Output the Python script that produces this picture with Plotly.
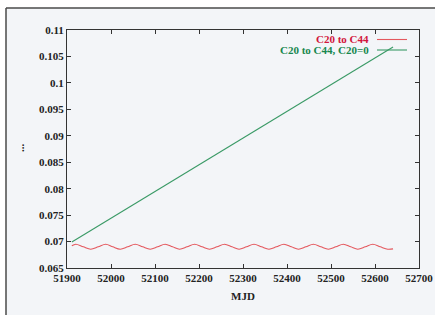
import plotly.graph_objects as go

# Data
red_mjd = [51911, 51920, 51937, 51954, 51971, 51988, 52004, 52021, 52038, 52055, 52072,
           52089, 52106, 52123, 52140, 52156, 52173, 52190, 52207, 52224, 52241, 52258,
           52275, 52291, 52308, 52325, 52342, 52359, 52376, 52393, 52410, 52426, 52443,
           52460, 52477, 52494, 52511, 52528, 52545, 52561, 52578, 52595, 52612, 52629, 52641]
red_val = [0.06920, 0.06950, 0.06900, 0.06855, 0.06900, 0.06950, 0.06900, 0.06855, 0.06900,
           0.06950, 0.06900, 0.06855, 0.06900, 0.06950, 0.06900, 0.06855, 0.06900, 0.06950,
           0.06900, 0.06855, 0.06900, 0.06950, 0.06900, 0.06855, 0.06900, 0.06950, 0.06900,
           0.06855, 0.06900, 0.06950, 0.06900, 0.06855, 0.06900, 0.06950, 0.06900, 0.06855,
           0.06900, 0.06950, 0.06900, 0.06855, 0.06900, 0.06950, 0.06900, 0.06855, 0.06862]
green_mjd = [51911, 52641]
green_val = [0.0699, 0.1068]

x_ticks = [51900, 52000, 52100, 52200, 52300, 52400, 52500, 52600, 52700]
y_ticks = [0.065, 0.07, 0.075, 0.08, 0.085, 0.09, 0.095, 0.1, 0.105, 0.11]
y_tick_text = ["0.065", "0.07", "0.075", "0.08", "0.085", "0.09", "0.095", "0.1", "0.105", "0.11"]
series_names = ["C20 to C44", "C20 to C44, C20=0"]
red_line = "#e4585e"
green_line = "#3a9a66"
red_text = "#d2163c"
green_text = "#17874e"
bg = "#f3f5f8"

FONT = "Liberation Serif"

fig = go.Figure()
fig.add_trace(go.Scatter(x=red_mjd, y=red_val, mode="lines", name=series_names[0],
                         line=dict(color=red_line, width=1.1, shape="spline", smoothing=1.0)))
fig.add_trace(go.Scatter(x=green_mjd, y=green_val, mode="lines", name=series_names[1],
                         line=dict(color=green_line, width=1.1)))

L, R, T, B = 67, 16, 30, 47
W, H = 435, 315
pw, ph = W - L - R, H - T - B

def px(xp):
    return (xp - L) / pw

def py(yp):
    return (H - B - yp) / ph

shapes = [
    dict(type="rect", xref="paper", yref="paper", x0=px(6), x1=px(440), y0=py(8), y1=py(320),
         fillcolor=bg, line=dict(width=0), layer="below"),
    dict(type="line", xref="paper", yref="paper", x0=px(6), x1=px(440), y0=py(8), y1=py(8),
         line=dict(color="#4a4a4a", width=1.5)),
    dict(type="line", xref="paper", yref="paper", x0=px(6), x1=px(6), y0=py(8), y1=py(320),
         line=dict(color="#4a4a4a", width=1.5)),
    # legend samples
    dict(type="line", xref="paper", yref="paper", x0=px(377), x1=px(407), y0=py(39.5), y1=py(39.5),
         line=dict(color=red_line, width=1.1)),
    dict(type="line", xref="paper", yref="paper", x0=px(377), x1=px(407), y0=py(50), y1=py(50),
         line=dict(color=green_line, width=1.1)),
]

annotations = [
    dict(text="<b>" + series_names[0] + "</b>", xref="paper", yref="paper", x=px(371), y=py(39.5),
         xanchor="right", yanchor="middle", showarrow=False, font=dict(family=FONT, size=11, color=red_text)),
    dict(text="<b>" + series_names[1] + "</b>", xref="paper", yref="paper", x=px(371), y=py(50),
         xanchor="right", yanchor="middle", showarrow=False, font=dict(family=FONT, size=11, color=green_text)),
    dict(text="<b>MJD</b>", xref="paper", yref="paper", x=px(243), y=py(296),
         xanchor="center", yanchor="middle", showarrow=False, font=dict(family=FONT, size=11, color="#222")),
    dict(text="<b>...</b>", xref="paper", yref="paper", x=px(20), y=py(148), textangle=-90,
         xanchor="center", yanchor="middle", showarrow=False, font=dict(family=FONT, size=11, color="#222")),
]

axis_common = dict(showgrid=False, zeroline=False, showline=True, linecolor="#333", linewidth=1,
                   mirror="ticks", ticks="inside", ticklen=4, tickcolor="#333", tickwidth=1,
                   tickfont=dict(family=FONT, size=11, color="#222"))

fig.update_layout(
    width=W, height=H, margin=dict(l=L, r=R, t=T, b=B, autoexpand=False),
    paper_bgcolor="white", plot_bgcolor=bg, showlegend=False,
    shapes=shapes, annotations=annotations,
    xaxis=dict(range=[51900, 52700], tickvals=x_ticks, ticktext=["<b>%d</b>" % v for v in x_ticks], **axis_common),
    yaxis=dict(range=[0.065, 0.11], tickvals=y_ticks, ticktext=["<b>%s</b>" % t for t in y_tick_text], **axis_common),
)

fig.write_html("out.html", config={"displayModeBar": False, "staticPlot": True})

# remove the default page margin so the figure sits at the window's top-left corner
with open("out.html", "r", encoding="utf-8") as f:
    html = f.read()
html = html.replace("<head>", "<head><style>html,body{margin:0;padding:0;overflow:hidden;}</style>", 1)
with open("out.html", "w", encoding="utf-8") as f:
    f.write(html)
